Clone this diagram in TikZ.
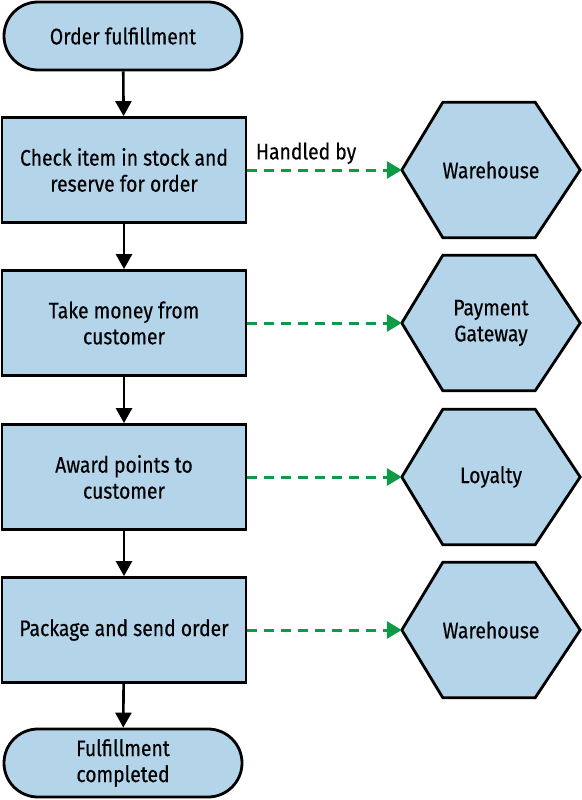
\documentclass[tikz,border=0pt]{standalone}
\usepackage{fontspec}
\setmainfont{Fira Sans}[FakeStretch=0.86,FakeBold=0.35]
\usetikzlibrary{calc,arrows.meta}
\definecolor{boxfill}{HTML}{B4D4EA}
\definecolor{dashgreen}{HTML}{0E9A46}
\tikzset{
  txt/.style={font=\fontsize{22.5}{26}\selectfont, align=center, text=black},
  terminal/.style={txt, draw=black, line width=2.8pt, fill=boxfill, rounded corners=34pt, minimum width=238pt, minimum height=68pt, inner sep=0pt},
  stepbox/.style={txt, draw=black, line width=2.8pt, fill=boxfill, minimum width=244pt, minimum height=105pt, inner sep=0pt},
  hexnode/.style={txt, minimum width=178pt, minimum height=135pt, inner sep=0pt},
  hexline/.style={draw=black, line width=2.8pt, fill=boxfill, line join=miter},
  flow/.style={draw=black, line width=2.6pt, -{Triangle[length=15pt,width=16pt]}},
  handled/.style={draw=dashgreen, line width=3pt, dash pattern=on 10pt off 7pt, -{Triangle[length=15pt,width=17pt]}},
}
\newcommand{\hexdraw}[1]{%
  \path[hexline] (#1.west) -- ($(#1.north west)+(41pt,0)$) -- ($(#1.north east)+(-45pt,0)$) -- (#1.east) -- ($(#1.south east)+(-45pt,0)$) -- ($(#1.south west)+(41pt,0)$) -- cycle;}
\begin{document}
\begin{tikzpicture}[x=1pt,y=-1pt]
\useasboundingbox (0,0) rectangle (581,800);
% main column
\node[terminal] (start) at (123,36) {Order fulfillment};
\node[stepbox] (s1) at (124,170) {Check item in stock and\\reserve for order};
\node[stepbox] (s2) at (124,323) {Take money from\\customer};
\node[stepbox] (s3) at (124,477) {Award points to\\customer};
\node[stepbox] (s4) at (124,630) {Package and send order};
\node[terminal] (end) at (123,763) {Fulfillment\\completed};
% hexagons
\node[hexnode] (h1) at (491,170) {};
\node[hexnode] (h2) at (491,323) {};
\node[hexnode] (h3) at (491,477) {};
\node[hexnode] (h4) at (491,630) {};
\hexdraw{h1}\hexdraw{h2}\hexdraw{h3}\hexdraw{h4}
\node[txt] at (h1) {Warehouse};
\node[txt] at (h2) {Payment\\Gateway};
\node[txt] at (h3) {Loyalty};
\node[txt] at (h4) {Warehouse};
% flow arrows
\draw[flow] (start) -- (s1);
\draw[flow] (s1) -- (s2);
\draw[flow] (s2) -- (s3);
\draw[flow] (s3) -- (s4);
\draw[flow] (s4) -- (end);
% handled-by arrows
\draw[handled] (s1.east) -- node[txt, above=1pt, pos=0.38] {Handled by} (h1.west);
\draw[handled] (s2.east) -- (h2.west);
\draw[handled] (s3.east) -- (h3.west);
\draw[handled] (s4.east) -- (h4.west);
\end{tikzpicture}
\end{document}
